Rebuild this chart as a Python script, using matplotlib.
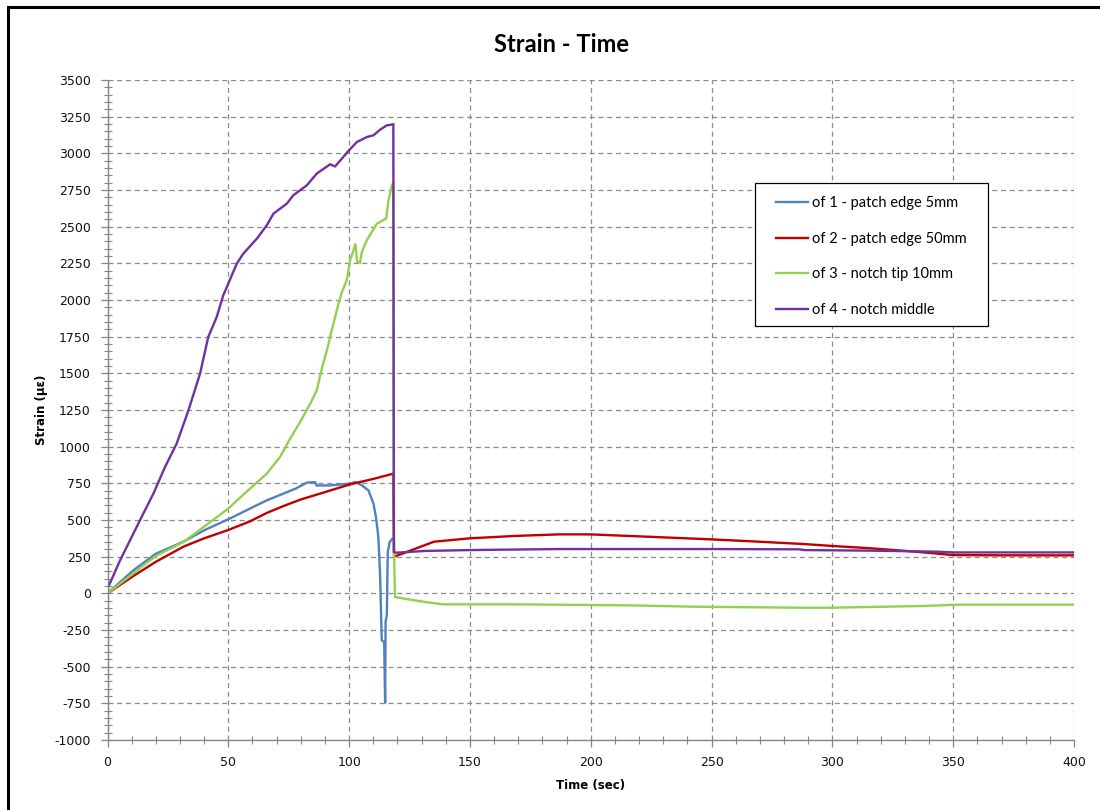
import matplotlib
matplotlib.use("Agg")
import matplotlib.pyplot as plt
from matplotlib.ticker import MultipleLocator
from matplotlib.lines import Line2D
from matplotlib.patches import Rectangle

plt.rcParams['axes.unicode_minus'] = False

# ---- data: time (sec) and strain (microstrain) per gauge ----
t_of1 = [0, 10.7, 20, 31.4, 40, 50, 65.9, 72.8, 78, 82.5, 85.9, 86.6, 92.1, 100.4,
         102.5, 105.3, 108.0, 110.1, 111.2, 112.1, 112.8, 113.5, 114.5, 114.9,
         115.1, 115.6, 116.0, 116.8, 117.8]
s_of1 = [0, 157, 270, 352, 430, 505, 634, 680, 715, 755, 758, 735, 736, 748,
         759, 736, 702, 611, 509, 384, 134, -321, -332, -750,
         -190, -150, 280, 350, 370]

t_of2 = [0, 10.7, 20, 31.4, 40, 50, 59, 65.9, 72.8, 80, 88, 100.4, 110, 118.3,
         118.6, 119.5, 125.9, 135.1, 149.9, 168.3, 186.8, 199.7, 223.7, 249.9,
         269.8, 288.3, 299.9, 316, 334.4, 349.9, 371.3, 400]
s_of2 = [0, 118, 215, 318, 375, 432, 491, 548, 595, 640, 680, 743, 780, 816,
         250, 255, 295, 352, 375, 391, 402, 402, 386, 368,
         352, 336, 323, 307, 284, 261, 259, 259]

t_of3 = [0, 10.7, 20, 31.4, 40, 50, 56, 65.9, 71.4, 75.6, 79.7, 83.9, 86.6, 88.7,
         90.8, 92.8, 94.2, 95.6, 97, 99, 100.4, 101.8, 102.6, 103.3, 104.5, 105.3,
         107.3, 109.4, 111.5, 115.3, 116.3, 117.7, 118.3, 118.6, 119, 124.1, 131.5,
         138.8, 168.3, 216.3, 242.1, 286.4, 300, 338.1, 352.9, 400]
s_of3 = [0, 136, 255, 350, 455, 578, 670, 816, 930, 1055, 1168, 1293, 1384, 1532,
         1657, 1793, 1884, 1975, 2054, 2134, 2270, 2339, 2385, 2260, 2255, 2330,
         2407, 2464, 2521, 2555, 2680, 2782, 2800, 270, -25, -40, -59,
         -75, -75, -82, -91, -98, -98, -86, -77, -77]

t_of4 = [0.5, 5.2, 10.7, 14.8, 19, 23.8, 28.6, 33.5, 38.3, 41.7, 45.2, 47.9, 50,
         53.5, 56.2, 61.8, 65.9, 68.7, 74.2, 76.9, 82.5, 86.6, 92.1, 94.2, 97,
         99.7, 103.2, 107.3, 110.1, 112.8, 115.6, 118.3, 118.5, 119.5, 131.5,
         149.9, 186.8, 250, 286.4, 288.3, 316, 343.6, 349.9, 400]
s_of4 = [50, 225, 407, 543, 680, 861, 1020, 1248, 1498, 1748, 1884, 2032, 2112,
         2248, 2316, 2418, 2509, 2589, 2657, 2714, 2782, 2862, 2925, 2911, 2964,
         3016, 3077, 3111, 3123, 3161, 3191, 3198, 282, 277, 289,
         295, 302, 302, 300, 295, 291, 284, 279, 279]

labels = ["of 1 - patch edge 5mm", "of 2 - patch edge 50mm",
          "of 3 - notch tip 10mm", "of 4 - notch middle"]
colors = ["#4F81BD", "#C00000", "#92D050", "#7030A0"]

W, H = 1100, 810
fig = plt.figure(figsize=(W / 100, H / 100), dpi=100)
ax = fig.add_axes([107.5 / W, 1 - 740 / H, (1074 - 107.5) / W, 660 / H])

for t, s, lab, c in zip([t_of1, t_of2, t_of3, t_of4],
                        [s_of1, s_of2, s_of3, s_of4], labels, colors):
    ax.plot(t, s, color=c, lw=1.7, label=lab, solid_joinstyle='miter')

ax.set_xlim(0, 400)
ax.set_ylim(-1000, 3500)
ax.xaxis.set_major_locator(MultipleLocator(50))
ax.xaxis.set_minor_locator(MultipleLocator(10))
ax.yaxis.set_major_locator(MultipleLocator(250))
ax.yaxis.set_minor_locator(MultipleLocator(50))

grid_col = "#8a8a8a"
ax.grid(True, which='major', color=grid_col, linestyle=(0, (4, 3)), linewidth=0.9)
ax.set_axisbelow(True)

for side in ('top', 'right'):
    ax.spines[side].set_visible(False)
for side in ('left', 'bottom'):
    ax.spines[side].set_color("#868686")
    ax.spines[side].set_linewidth(1.0)

ax.tick_params(axis='both', which='major', direction='out', length=5, width=0.9,
               color="#868686", labelsize=9, labelcolor="#111111")
ax.tick_params(axis='y', which='major', pad=7)
ax.tick_params(axis='x', which='major', pad=6.5)
ax.tick_params(axis='both', which='minor', direction='inout', length=6, width=0.8,
               color="#868686")

# legend box drawn as a plain rectangle, entries placed inside it
fig.add_artist(Rectangle((755 / W, 1 - 326 / H), (988 - 755) / W, (326 - 183) / H,
                         transform=fig.transFigure, facecolor='white',
                         edgecolor='black', lw=0.9, zorder=5))
leg = fig.legend(loc='upper left', bbox_to_anchor=(776 / W, 1 - 196 / H),
                 bbox_transform=fig.transFigure, frameon=False,
                 prop={'family': 'Lato', 'size': 10.5}, labelspacing=1.49,
                 handlelength=2.2, handletextpad=0.3, borderpad=0,
                 borderaxespad=0)
leg.set_zorder(6)

fig.text(561 / W, 1 - 44 / H, "Strain - Time", ha='center', va='center',
         fontsize=17, fontweight='bold', family='Lato')
fig.text(591 / W, 1 - 786 / H, "Time (sec)", ha='center', va='center',
         fontsize=8.5, fontweight='bold')
fig.text(42 / W, 1 - 410 / H, "Strain (με)", ha='center', va='center',
         rotation=90, fontsize=8.5, fontweight='bold')

# outer chart frame (left and top edges)
fig.add_artist(Line2D([8 / W, 8 / W], [-0.05, 1 - 7 / H], transform=fig.transFigure,
                      color='black', lw=2.2))
fig.add_artist(Line2D([8 / W, 1.05], [1 - 7 / H, 1 - 7 / H], transform=fig.transFigure,
                      color='black', lw=2.2))

fig.savefig("out.png", dpi=100, facecolor='white')
